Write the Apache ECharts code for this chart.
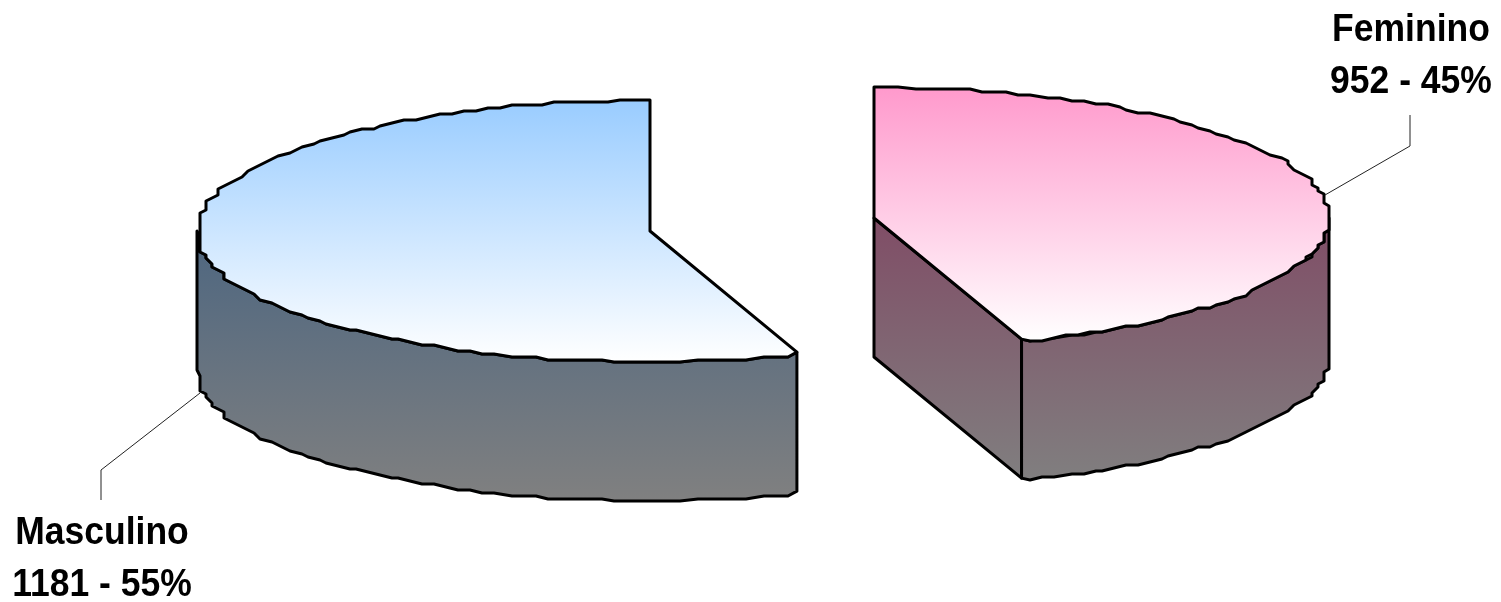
<!DOCTYPE html>
<html>
<head>
<meta charset="utf-8">
<style>
  html, body { margin: 0; padding: 0; background: #fff; }
  #main { width: 1501px; height: 602px; }
</style>
<script src="https://cdn.jsdelivr.net/npm/echarts@6/dist/echarts.min.js"></script>
</head>
<body>
<div id="main"></div>
<script>
// dados
var categories = ['Feminino', 'Masculino'];
var counts = [952, 1181];

// layout de cada fatia (nao sao dados)
var layouts = [
  {
    cx: 874, cy: 218, rx: 455,
    top: ['#ff99cc', '#ffffff'], side: ['#804d66', '#808080'],
    leader: [[1410, 115], [1410, 146], [1325, 195]], labelX: 1411, labelY: 30
  },
  {
    cx: 650, cy: 231, rx: 453,
    top: ['#99ccff', '#ffffff'], side: ['#4d6680', '#808080'],
    leader: [[101, 500], [101, 470], [200, 393]], labelX: 102, labelY: 533
  }
];
var ry = 131, depth = 139;
var gridX = 6, gridY = 3, stepDeg = 1.7, cutInset = 0.98;
var total = counts.reduce(function (a, b) { return a + b; }, 0);

function clamp(v, m) { return Math.max(-m, Math.min(m, v)); }

// ponto da elipse, 0 graus em cima, sentido horario
// arredonda numa grade para dar o contorno serrilhado do original
function rimPoint(l, deg, snap) {
  var t = deg * Math.PI / 180;
  var x = l.rx * Math.sin(t), y = -ry * Math.cos(t);
  if (snap) {
    x = clamp(Math.round(x / gridX) * gridX, l.rx);
    y = clamp(Math.round(y / gridY) * gridY, ry);
  }
  return [l.cx + x, l.cy + y];
}

// ponta do corte, um pouco para dentro da elipse como no original
function cutPoint(l, deg) {
  var p = rimPoint(l, deg, false);
  if (deg % 360 === 0) return p;
  return [l.cx + (p[0] - l.cx) * cutInset, l.cy + (p[1] - l.cy) * cutInset];
}

function arcPoints(l, from, to) {
  var pts = [from % 90 === 0 ? rimPoint(l, from, false) : cutPoint(l, from)];
  var d = from + stepDeg;
  for (; d < to - stepDeg / 2; d += stepDeg) pts.push(rimPoint(l, d, true));
  pts.push(to % 90 === 0 ? rimPoint(l, to, false) : cutPoint(l, to));
  return pts;
}

function down(pts) {
  return pts.map(function (p) { return [p[0], p[1] + depth]; }).reverse();
}

function grad(colors, y0, y1) {
  return {
    type: 'linear', global: true, x: 0, y: y0, x2: 0, y2: y1,
    colorStops: [{ offset: 0, color: colors[0] }, { offset: 1, color: colors[1] }]
  };
}

function renderSlice(params, api) {
  var i = params.dataIndex;
  var l = layouts[i];
  var before = 0;
  for (var k = 0; k < i; k++) before += counts[k];
  var start = before / total * 360;
  var end = start + api.value(0) / total * 360;
  var line = { stroke: '#000', lineWidth: 3, lineJoin: 'round' };
  var sideFill = grad(l.side, l.cy, l.cy + ry + depth);
  var center = [l.cx, l.cy];
  var children = [];

  // face do corte, so aparece quando vira para baixo
  if (Math.sin(end * Math.PI / 180) > 0.01) {
    var e = cutPoint(l, end);
    children.push({
      type: 'polygon',
      shape: { points: [center, e, [e[0], e[1] + depth], [l.cx, l.cy + depth]] },
      style: Object.assign({ fill: sideFill }, line)
    });
  }
  // lateral curva visivel: de 90 a 270 graus
  var a = Math.max(start, 90), b = Math.min(end, 270);
  if (b > a) {
    var rim = arcPoints(l, a, b);
    children.push({
      type: 'polygon',
      shape: { points: rim.concat(down(rim)) },
      style: Object.assign({ fill: sideFill }, line)
    });
  }
  // tampa
  var arc = arcPoints(l, start, end);
  var ys = arc.map(function (p) { return p[1]; });
  children.push({
    type: 'polygon',
    shape: { points: [center].concat(arc) },
    style: Object.assign({ fill: grad(l.top, Math.min.apply(null, ys), Math.max.apply(null, ys)) }, line)
  });
  // linha de chamada
  children.push({
    type: 'polyline',
    shape: { points: l.leader },
    style: { stroke: '#222', lineWidth: 1, fill: null }
  });
  // rotulos
  var texts = [categories[i], api.value(0) + ' - ' + Math.round(api.value(0) / total * 100) + '%'];
  texts.forEach(function (txt, n) {
    children.push({
      type: 'text',
      x: l.labelX, y: l.labelY + n * 52, scaleY: 1.08,
      style: {
        text: txt, fill: '#000', align: 'center', verticalAlign: 'middle',
        font: 'bold 35.5px "Liberation Sans", Arial, sans-serif'
      }
    });
  });
  return { type: 'group', children: children };
}

var myChart = echarts.init(document.getElementById('main'), null, { renderer: 'canvas' });
myChart.setOption({
  animation: false,
  backgroundColor: '#fff',
  series: [{
    type: 'custom',
    coordinateSystem: 'none',
    renderItem: renderSlice,
    data: counts.map(function (v, i) { return { name: categories[i], value: [v] }; })
  }]
});
</script>
</body>
</html>
